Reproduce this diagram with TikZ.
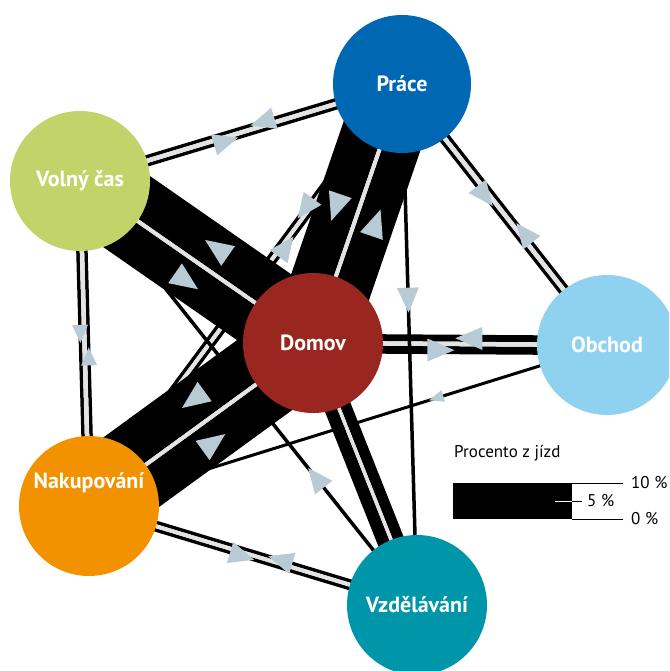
\documentclass[tikz,border=0pt]{standalone}
\usepackage{fontspec}
\setmainfont{PT Sans}
\usetikzlibrary{calc,backgrounds}
\definecolor{cPrace}{HTML}{0068B3}
\definecolor{cVolny}{HTML}{C2D469}
\definecolor{cDomov}{HTML}{9A2620}
\definecolor{cObchod}{HTML}{8ED2F0}
\definecolor{cNakup}{HTML}{F39200}
\definecolor{cVzdel}{HTML}{0096AA}
\definecolor{arrc}{HTML}{B8CAD4}
\definecolor{divc}{HTML}{E3E3E3}
% lane: from, to, offset to the right, width
\newcommand\flowlane[4]{\draw[line width=#4pt] ($(#1)!#3pt!-90:(#2)$) -- ($(#2)!#3pt!90:(#1)$);}
% divider between the two lanes
\newcommand\flowsep[3]{\draw[divc, line width=#3pt] (#1.center) -- (#2.center);}
% arrow head: from, to, offset, pos, length, base
\newcommand\flowarrow[6]{%
  \coordinate (fs) at ($(#1)!#3pt!-90:(#2)$);
  \coordinate (fe) at ($(#2)!#3pt!90:(#1)$);
  \coordinate (fm) at ($(fs)!#4!(fe)$);
  \coordinate (ft) at ($(fm)!#5pt*0.5!(fe)$);
  \coordinate (fb) at ($(fm)!-#5pt*0.5!(fe)$);
  \fill[arrc] (ft) -- ($(fb)!#6pt*0.5!90:(fe)$) -- ($(fb)!#6pt*0.5!-90:(fe)$) -- cycle;}
\begin{document}
\begin{tikzpicture}[x=1pt,y=-1pt,
  place/.style={circle, inner sep=0pt, minimum size=140pt, text=white, font=\bfseries\fontsize{22}{26}\selectfont},
  placetext/.style={text=white, font=\bfseries\fontsize{22}{26}\selectfont, inner sep=0pt},
  legtext/.style={font=\fontsize{17}{20}\selectfont, inner sep=0pt}]
\useasboundingbox (0,0) rectangle (669,671);
\clip (0,0) rectangle (669,671);
\node[place, fill=cPrace, minimum size=138pt] (P) at (402,84) {Práce};
\node[place, fill=cVolny] (V) at (80,181) {Volný čas};
\node[place, fill=cDomov] (D) at (313,343) {Domov};
\node[place, fill=cObchod] (O) at (607,345) {Obchod};
\node[place, fill=cNakup] (N) at (89,506) {};
\node[placetext] (Nt) at (89,483) {Nakupování};
\node[place, fill=cVzdel] (Z) at (417,605) {Vzdělávání};
% legend
\node[legtext, anchor=west] (lt) at (454,453) {Procento z jízd};
\node[fill=black, inner sep=0pt, minimum width=119pt, minimum height=36pt, anchor=north west] (bar) at (453,483) {};
\coordinate (b5) at ($(bar.north east)!0.5!(bar.south east)$);
\draw[line width=1pt] (bar.north east) -- ++(51,0) coordinate (t10);
\draw[line width=1pt] (bar.south east) -- ++(51,0) coordinate (t0);
\draw[white, line width=1pt] ($(b5)+(-17,0)$) -- (b5);
\draw[line width=1pt] (b5) -- ++(10,0) coordinate (t5);
\node[legtext, anchor=west] (l10) at (631,483) {10 \%};
\node[legtext, anchor=west] (l5) at (587,501) {5 \%};
\node[legtext, anchor=west] (l0) at (631,519) {0 \%};
\begin{scope}[on background layer]
  % thin two-way lines
  \flowlane{V}{P}{4}{3.5}\flowlane{P}{V}{4}{3.5}\flowsep{V}{P}{4.5}
  \flowlane{P}{O}{4}{3.5}\flowlane{O}{P}{4}{3.5}\flowsep{P}{O}{4.5}
  \flowlane{N}{P}{3.75}{3.5}\flowlane{P}{N}{3.75}{3.5}\flowsep{N}{P}{4}
  \flowlane{N}{Z}{3.75}{3.5}\flowlane{Z}{N}{3.75}{3.5}\flowsep{N}{Z}{4}
  \flowlane{V}{N}{4}{3.5}\flowlane{N}{V}{4}{3.5}\flowsep{V}{N}{4.5}
  % thin one-way lines
  \flowlane{Z}{V}{0}{3.5}
  \flowlane{O}{N}{0}{3}
  % thick bands
  \flowlane{V}{D}{21.5}{39}\flowlane{D}{V}{23}{42}\flowsep{V}{D}{4}
  \flowlane{N}{D}{22}{40}\flowlane{D}{N}{24.5}{45}\flowsep{N}{D}{4}
  \flowlane{P}{D}{22.5}{41}\flowlane{D}{P}{20.5}{37}\flowsep{P}{D}{4}
  \flowlane{D}{Z}{8}{12.5}\flowlane{Z}{D}{7.25}{11}\flowsep{D}{Z}{3.5}
  \flowlane{D}{O}{6.25}{8}\flowlane{O}{D}{5.75}{7}\flowsep{D}{O}{4.5}
  \flowlane{P}{Z}{0}{3.5}
  % arrow heads
  \flowarrow{V}{P}{4}{0.45}{25}{22}
  \flowarrow{P}{V}{4}{0.43}{25}{22}
  \flowarrow{P}{O}{4}{0.42}{25}{22}
  \flowarrow{O}{P}{4}{0.42}{25}{22}
  \flowarrow{P}{D}{22.5}{0.505}{28}{24}
  \flowarrow{D}{P}{20.5}{0.49}{28}{24}
  \flowarrow{V}{D}{21.5}{0.51}{28}{24}
  \flowarrow{D}{V}{23}{0.47}{28}{24}
  \flowarrow{N}{D}{22}{0.50}{28}{24}
  \flowarrow{D}{N}{24.5}{0.47}{28}{24}
  \flowarrow{D}{O}{6.25}{0.435}{27}{23}
  \flowarrow{O}{D}{5.75}{0.47}{27}{23}
  \flowarrow{N}{P}{3.75}{0.62}{25}{22}
  \flowarrow{P}{N}{3.75}{0.30}{25}{22}
  \flowarrow{N}{Z}{3.75}{0.47}{25}{22}
  \flowarrow{Z}{N}{3.75}{0.42}{25}{22}
  \flowarrow{V}{N}{4}{0.47}{18}{16}
  \flowarrow{N}{V}{4}{0.46}{18}{16}
  \flowarrow{P}{Z}{0}{0.415}{25}{22}
  \flowarrow{Z}{V}{0}{0.30}{25}{22}
  \flowarrow{O}{N}{0}{0.33}{15}{12}
\end{scope}
\end{tikzpicture}
\end{document}
